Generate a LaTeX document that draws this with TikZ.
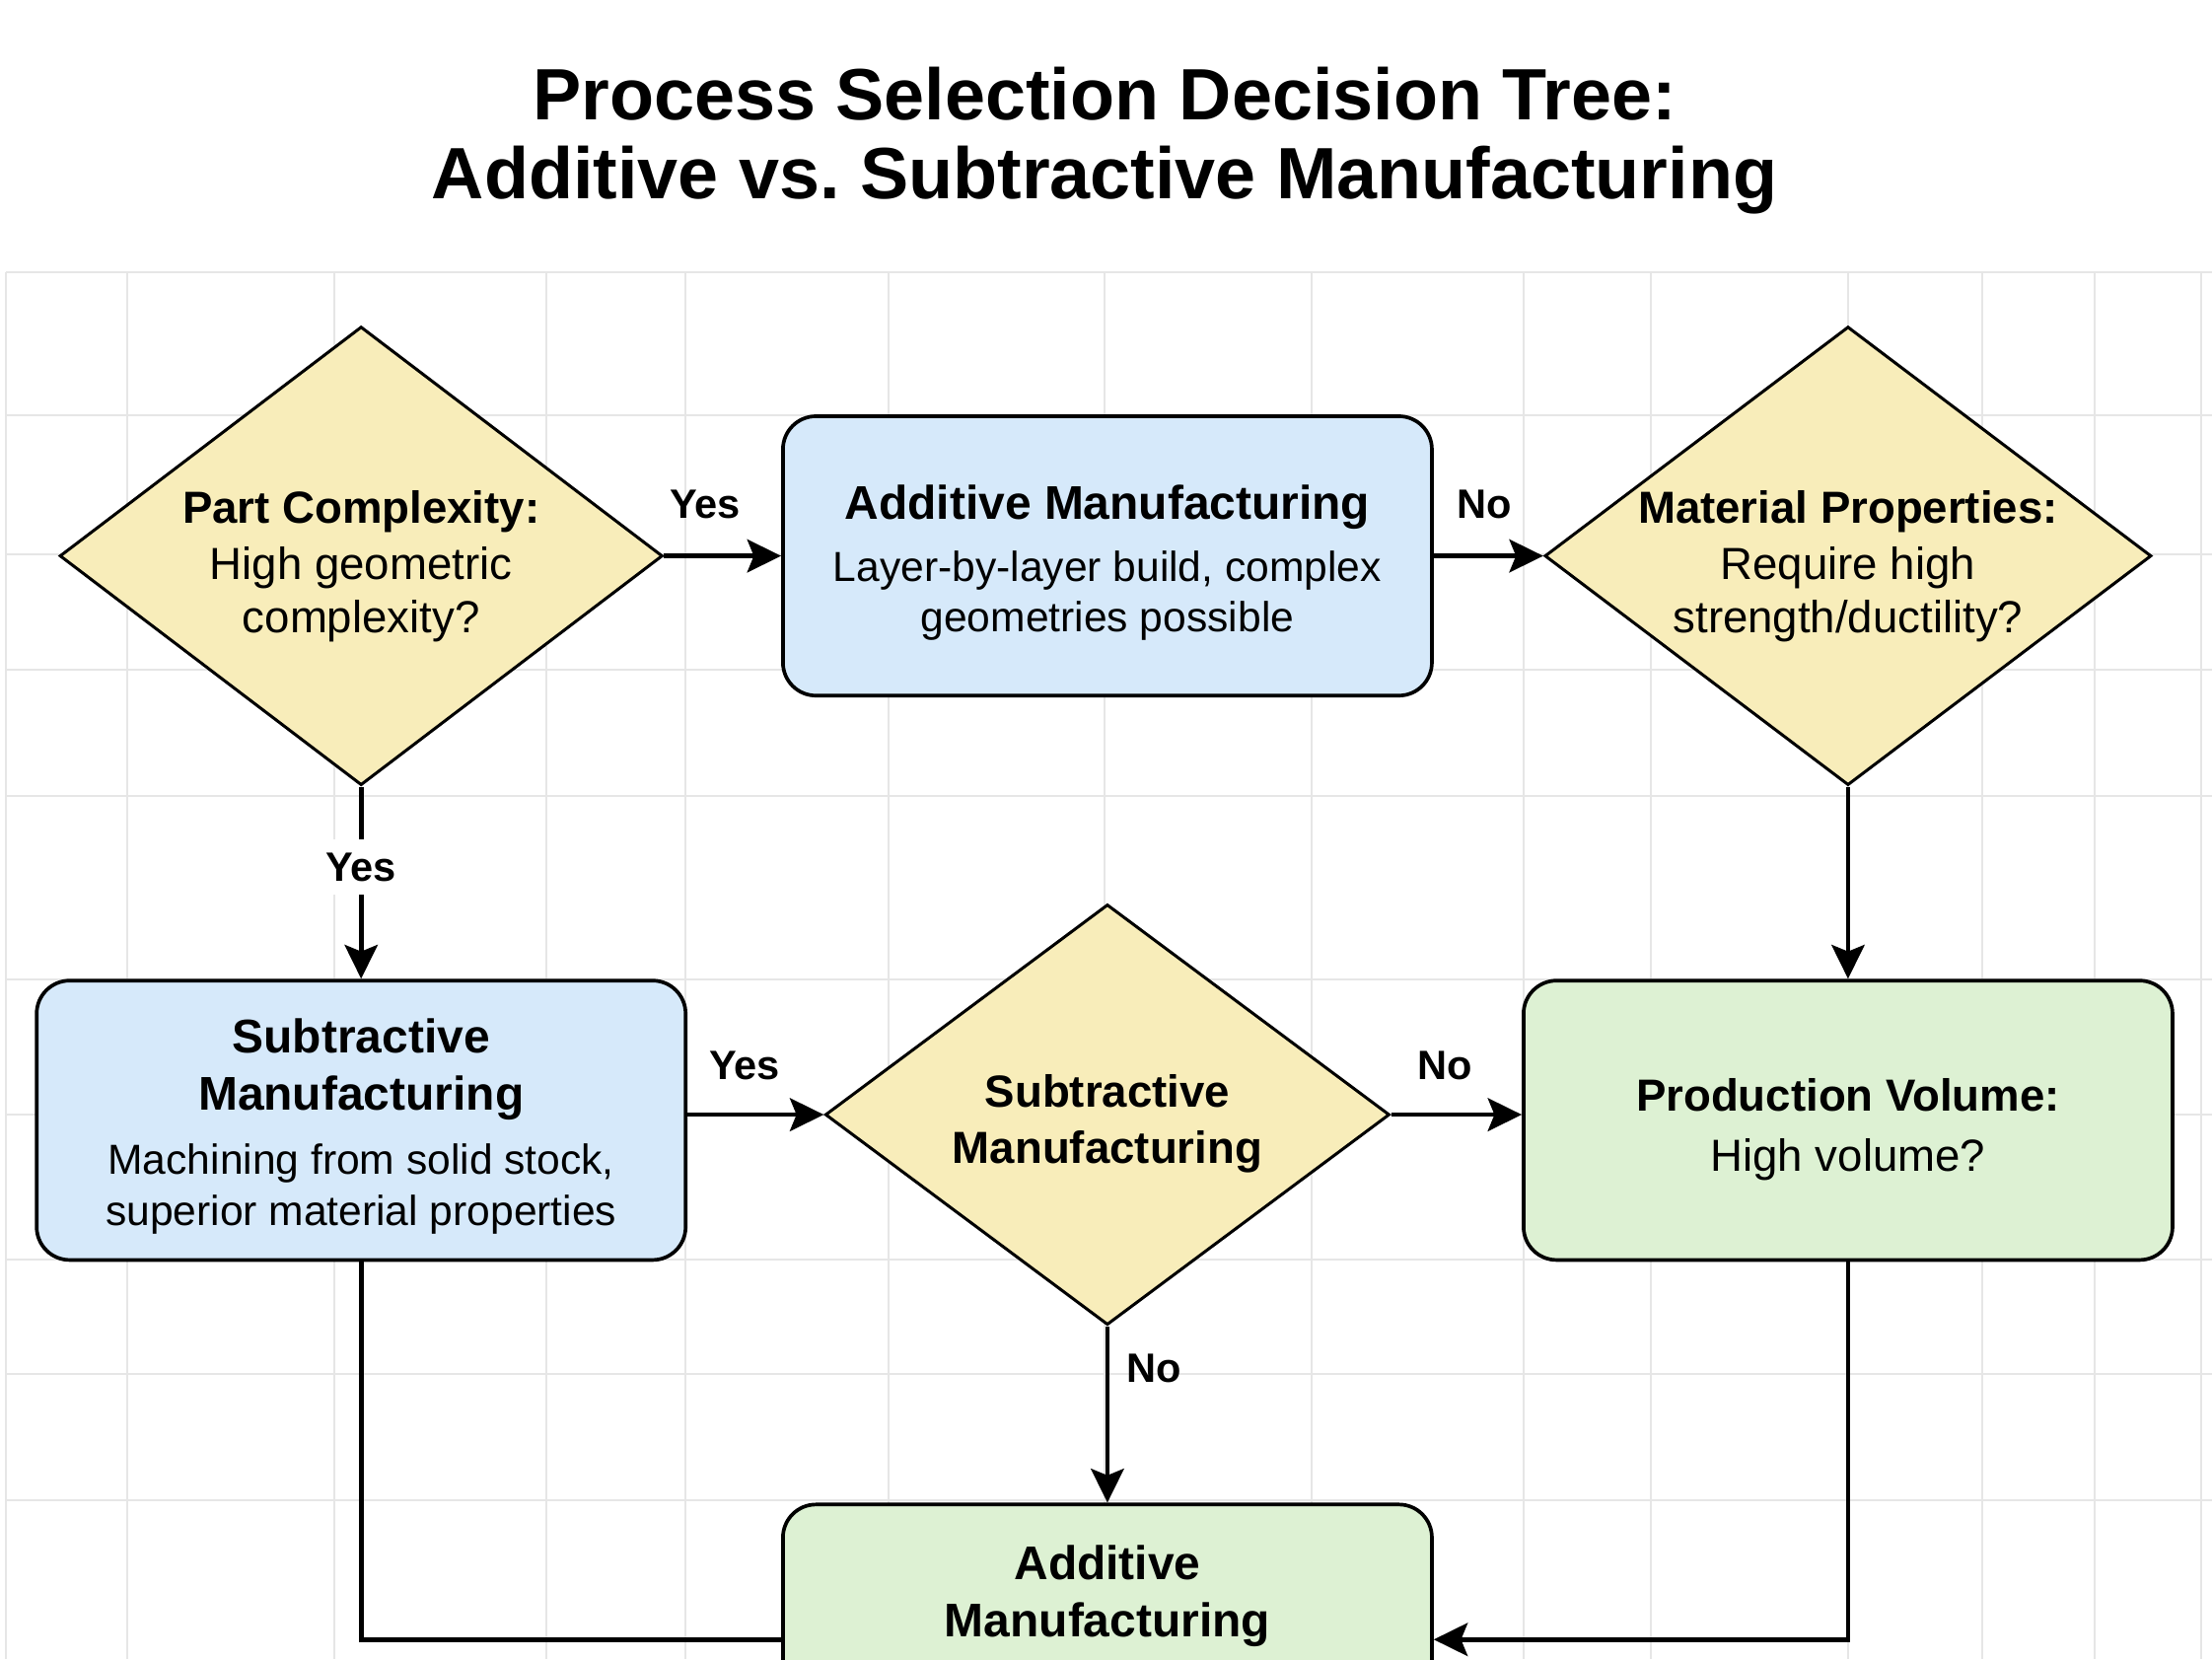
\documentclass[tikz,border=0pt]{standalone}
\usepackage{fontspec}
\setmainfont{Liberation Sans}
\usepackage{tikz}
\usetikzlibrary{arrows.meta,positioning,shapes.geometric}
\definecolor{qfill}{HTML}{F8EDBA}
\definecolor{addfill}{HTML}{D6E9FA}
\definecolor{volfill}{HTML}{DDF1D3}
\definecolor{gridgray}{HTML}{E6E6E6}
\newcommand{\headfont}{\fontsize{14.3}{17}\selectfont\bfseries}
\newcommand{\qheadfont}{\fontsize{13.6}{16}\selectfont\bfseries}
\newcommand{\topstrut}[1]{\rule{0pt}{#1}}
\tikzset{
  gridline/.style={gridgray,line width=0.6pt},
  decision/.style={diamond,draw=black,line width=0.9pt,fill=qfill,inner sep=-4pt,align=center,
                   font=\fontsize{13.6}{16}\selectfont},
  procbox/.style={rectangle,draw=black,line width=1.1pt,rounded corners=10pt,align=center,
                  minimum width=69mm,minimum height=29.7mm,font=\fontsize{12.7}{15.4}\selectfont},
  addbox/.style={procbox,fill=addfill},
  volbox/.style={procbox,fill=volfill},
  flow/.style={-{Stealth[length=3.6mm,width=3.5mm,inset=0.7mm]},line width=1.4pt},
  plainflow/.style={line width=1.4pt},
  branch/.style={font=\fontsize{12.4}{14}\selectfont\bfseries,inner sep=0pt},
}

\begin{document}
\begin{tikzpicture}[x=0.015cm,y=-0.015cm]

\useasboundingbox (0,0) rectangle (1568,1176);
\fill[white] (0,0) rectangle (1568,1176);

% background grid
\foreach \gx in {4,90,237,387,486,630,783,930,1080,1170,1310,1405,1485,1560}
  \draw[gridline] (\gx,193) -- (\gx,1176);
\foreach \gy in {193,294,393,475,564,694,790,893,974,1063}
  \draw[gridline] (4,\gy) -- (1568,\gy);

\node[font=\fontsize{22}{24}\selectfont\bfseries, align=center] (title) at (783,99.5)
  {Process Selection Decision Tree:\\Additive vs.\ Subtractive Manufacturing};

% top row
\node[decision, minimum width=64.1mm, minimum height=48.75mm, shape aspect=1.31] (complex)
  at (256,394) {\topstrut{16pt}{\qheadfont Part Complexity:}\\[1pt]High geometric\\complexity?};
\node[addbox] (additive) at (785,394)
  {\topstrut{14.5pt}{\headfont Additive Manufacturing}\\[3.4pt]Layer-by-layer build, complex\\geometries possible};
\node[decision, minimum width=64.5mm, minimum height=48.75mm, shape aspect=1.32] (material)
  at (1310,394) {\topstrut{16pt}{\qheadfont Material Properties:}\\[1pt]Require high\\strength/ductility?};

% middle row
\node[addbox] (subtract) at (256,794)
  {\topstrut{14pt}{\headfont Subtractive}\\[2pt]{\headfont Manufacturing}\\[4pt]Machining from solid stock,\\superior material properties};
\node[decision, minimum width=60mm, minimum height=44.7mm, shape aspect=1.34] (subq)
  at (785,790) {\topstrut{15.2pt}{\qheadfont Subtractive}\\[1pt]{\qheadfont Manufacturing}};
\node[volbox] (volume) at (1310,794)
  {\topstrut{15.4pt}{\qheadfont Production Volume:}\\[3pt]{\fontsize{13.6}{16}\selectfont High volume?}};

% bottom box, runs off the page
\node[volbox, anchor=north, inner ysep=12.4pt, text depth=16mm] (additive2) at (785,1065)
  {{\headfont Additive}\\[2pt]{\headfont Manufacturing}};

\coordinate (busrow) at (0,1162);

\draw[flow] (complex) -- node[branch, above=3.7mm, pos=0.35] (yes1) {Yes} (additive);
\draw[flow] (additive) -- node[branch, above=3.7mm, pos=0.46] (no1) {No} (material);
\draw[flow] (complex.south) -- node[branch, fill=white, inner ysep=4pt, inner xsep=1pt, pos=0.42] (yes2) {Yes} (subtract.north);
\draw[flow] (material.south) -- (volume.north);
\draw[flow] (subtract.east |- subq) -- node[branch, above=3.4mm, pos=0.42] (yes3) {Yes} (subq.west);
\draw[flow] (subq.east) -- node[branch, above=3.4mm, pos=0.41] (no2) {No} (subq.east -| volume.west);
\draw[flow] (subq.south) -- node[branch, right=1.8mm, pos=0.24] (no3) {No} (additive2.north);
\draw[plainflow] (subtract.south) |- (busrow -| additive2.west);
\draw[flow] (volume.south) |- (busrow -| additive2.east);

\end{tikzpicture}
\end{document}
